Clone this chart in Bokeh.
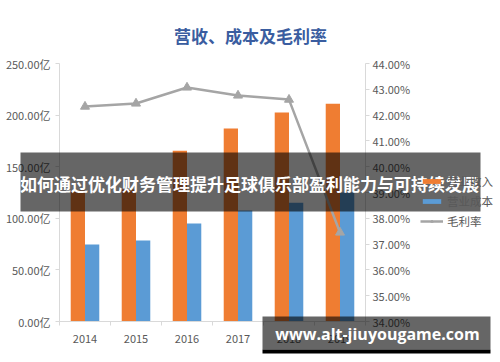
import numpy as np
from bokeh.plotting import figure
from bokeh.models import (Range1d, LinearAxis, FixedTicker, PrintfTickFormatter,
                          Legend, LegendItem, BoxAnnotation, Label)
from bokeh.embed import file_html
from bokeh.resources import INLINE

years = ["2014", "2015", "2016", "2017", "2018", "2019"]
revenue = [127, 128, 165.5, 187, 202.5, 211]      # 营业收入 (亿)
cost = [74.5, 78.5, 95, 107.5, 115, 125]          # 营业成本 (亿)
margin = [42.33, 42.45, 43.07, 42.76, 42.60, 37.45]  # 毛利率 (%)
left_ticks = [0, 50, 100, 150, 200, 250]
right_ticks = [34, 35, 36, 37, 38, 39, 40, 41, 42, 43, 44]

title_text = "营收、成本及毛利率"
banner_text = "如何通过优化财务管理提升足球俱乐部盈利能力与可持续发展"
mark_text = "www.alt-jiuyougame.com"

CJK = "Noto Sans CJK SC"
GRAY = "#595959"
AXC = "#D9D9D9"

# canvas layout (pixels)
W, H = 500, 362
PL, PR, PT, PB = 59, 365, 63, 321   # plot area edges inside the canvas

n = len(years)
ymin, ymax = left_ticks[0], left_ticks[-1]
pmin, pmax = right_ticks[0], right_ticks[-1]
xpp = n / (PR - PL)                   # data units per pixel (x)
ypp = (ymax - ymin) / (PB - PT)       # data units per pixel (left y)
ppp = (pmax - pmin) / (PB - PT)       # data units per pixel (right y)

p = figure(width=W, height=H, output_backend="svg", toolbar_location=None, title=None,
           x_range=Range1d(-PL * xpp, n + (W - PR) * xpp),
           y_range=Range1d(ymin - (H - PB) * ypp, ymax + PT * ypp),
           min_border_left=0, min_border_right=0, min_border_top=0, min_border_bottom=0,
           background_fill_color="white", border_fill_color="white",
           outline_line_color=None)
p.xgrid.visible = False
p.ygrid.visible = False
p.extra_y_ranges = {"pct": Range1d(pmin - (H - PB) * ppp, pmax + PT * ppp)}

idx = np.arange(n) + 0.5
r_rev = p.vbar(x=idx - 0.14, top=revenue, width=0.28, color="#EF7D32", line_color=None)
r_cost = p.vbar(x=idx + 0.14, top=cost, width=0.28, color="#5B9BD5", line_color=None)
r_line = p.line(x=idx, y=margin, y_range_name="pct", line_color="#A5A5A5", line_width=2.5)
r_pts = p.scatter(x=idx, y=margin, y_range_name="pct", marker="triangle", size=9,
                  color="#A5A5A5")

# axes (fixed inside the frame)
xa = p.xaxis[0]
xa.fixed_location = ymin
xa.bounds = (0, n)
xa.ticker = FixedTicker(ticks=list(idx), minor_ticks=list(range(n + 1)))
xa.major_label_overrides = {float(v): y for v, y in zip(idx, years)}
xa.major_tick_line_color = None
xa.minor_tick_out = 4
xa.minor_tick_in = 0
xa.minor_tick_line_color = AXC
xa.axis_line_color = AXC
xa.major_label_text_font = CJK
xa.major_label_text_font_size = "11px"
xa.major_label_text_color = GRAY
xa.major_label_standoff = 7

ya = p.yaxis[0]
ya.fixed_location = 0
ya.bounds = (ymin, ymax)
ya.ticker = FixedTicker(ticks=left_ticks)
ya.formatter = PrintfTickFormatter(format="%.2f亿")
ya.axis_line_color = AXC
ya.major_tick_line_color = AXC
ya.major_tick_out = 4
ya.major_tick_in = 0
ya.minor_tick_line_color = None
ya.major_label_text_font = CJK
ya.major_label_text_font_size = "11px"
ya.major_label_text_color = GRAY
ya.major_label_standoff = 5

ra = LinearAxis(y_range_name="pct", ticker=FixedTicker(ticks=right_ticks),
                formatter=PrintfTickFormatter(format="%.2f%%"),
                fixed_location=n, bounds=(pmin, pmax))
ra.axis_line_color = AXC
ra.major_tick_line_color = AXC
ra.major_tick_out = 4
ra.major_tick_in = 0
ra.minor_tick_line_color = None
ra.major_label_text_font = CJK
ra.major_label_text_font_size = "11px"
ra.major_label_text_color = GRAY
ra.major_label_standoff = 3
p.add_layout(ra, "right")

legend = Legend(items=[LegendItem(label="营业收入", renderers=[r_rev]),
                       LegendItem(label="营业成本", renderers=[r_cost]),
                       LegendItem(label="毛利率", renderers=[r_line, r_pts])],
                location=(420, 131), orientation="vertical",
                glyph_width=23, glyph_height=6, label_height=20, spacing=0,
                label_standoff=4, padding=0, margin=0,
                border_line_color=None, background_fill_alpha=0,
                label_text_font=CJK, label_text_font_size="11.5px",
                label_text_color=GRAY)
p.add_layout(legend, "center")

p.add_layout(Label(x=250, y=327, x_units="screen", y_units="screen", text=title_text,
                   text_font=CJK, text_font_size="17px", text_font_style="bold",
                   text_color="#3A5DA0", text_align="center", text_baseline="middle"))

# overlay banner and watermark
def box(l, r, b, t, alpha):
    p.add_layout(BoxAnnotation(left=l, right=r, bottom=b, top=t,
                               left_units="screen", right_units="screen",
                               bottom_units="screen", top_units="screen",
                               fill_color="black", fill_alpha=alpha, line_color=None,
                               level="overlay"))

box(20, 480, 151, 210, 0.6)
p.add_layout(Label(x=249, y=179, x_units="screen", y_units="screen", text=banner_text,
                   text_font=CJK, text_font_size="17px", text_font_style="bold",
                   text_color="white", text_align="center", text_baseline="middle",
                   level="overlay"))
box(262, 490, 13, 46, 0.6)
box(262, 490, 9, 13, 1.0)
p.add_layout(Label(x=377, y=29, x_units="screen", y_units="screen", text=mark_text,
                   text_font="Open Sans", text_font_size="16px", text_font_style="bold",
                   text_color="white", text_align="center", text_baseline="middle",
                   level="overlay"))

open("out.html", "w").write(file_html(p, INLINE))
